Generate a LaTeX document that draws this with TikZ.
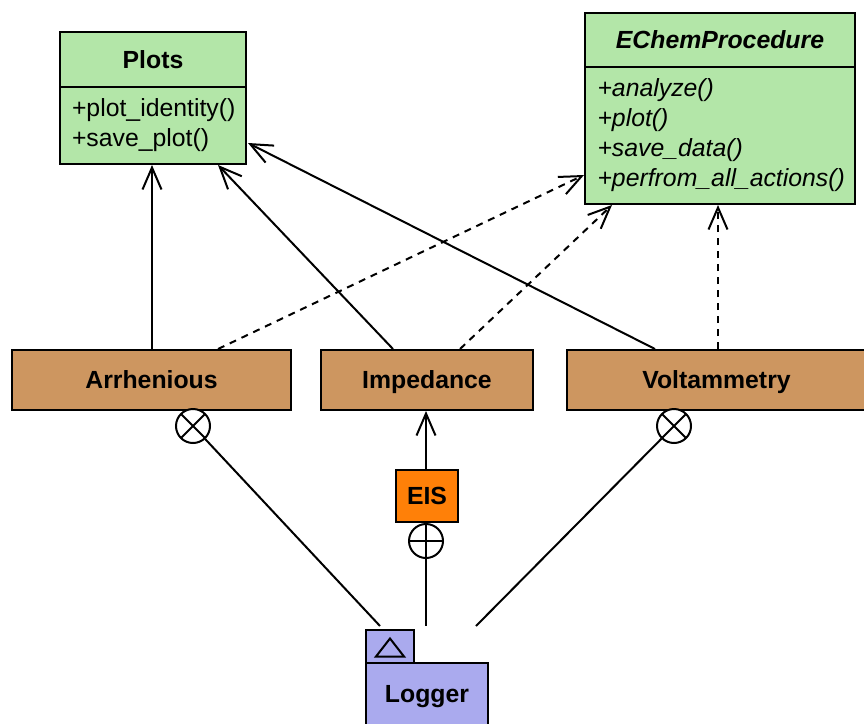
\documentclass[tikz,border=0pt]{standalone}
\usepackage{fontspec}
\setmainfont{Liberation Sans}
\usetikzlibrary{arrows.meta,calc}
\definecolor{clsgreen}{RGB}{179,230,168}
\definecolor{clstan}{RGB}{205,150,96}
\definecolor{clsorange}{RGB}{255,128,8}
\definecolor{clslav}{RGB}{170,170,238}
\tikzset{
  box/.style={draw=black, line width=2pt, inner sep=0pt, minimum width=#1},
  ttl/.style={font=\fontsize{24.8}{30}\selectfont\bfseries},
  bodytxt/.style={font=\fontsize{24.8}{30}\selectfont, align=left},
  conn/.style={line width=2pt},
  dsh/.style={dash pattern=on 7pt off 6pt},
  opentip/.style={-{Straight Barb[length=22pt,width=19pt,line width=2pt]}},
  xcirc/.style={circle, draw=black, line width=2pt, fill=white, minimum size=34pt, inner sep=0pt,
    path picture={\draw[line width=2pt] (path picture bounding box.north west) -- (path picture bounding box.south east)
      (path picture bounding box.north east) -- (path picture bounding box.south west);}},
  pcirc/.style={circle, draw=black, line width=2pt, fill=white, minimum size=34pt, inner sep=0pt,
    path picture={\draw[line width=2pt] (path picture bounding box.north) -- (path picture bounding box.south)
      (path picture bounding box.east) -- (path picture bounding box.west);}}
}
\begin{document}
\begin{tikzpicture}[x=1pt,y=-1pt]
\useasboundingbox (0,0) rectangle (864,723);
\fill[white] (0,0) rectangle (864,723);
% Plots
\node[box=186pt, minimum height=55pt, fill=clsgreen, ttl] (plotst) at (153,59.5) {Plots};
\node[box=186pt, minimum height=77pt, fill=clsgreen, bodytxt, text width=162pt, inner xsep=12pt] (plotsb) at (153,125.5) {+plot\_identity()\\+save\_plot()};
% EChemProcedure
\node[box=270pt, minimum height=54pt, fill=clsgreen, ttl, font=\fontsize{24.8}{30}\selectfont\bfseries\itshape] (echemt) at (720,40) {EChemProcedure};
\node[box=270pt, minimum height=137pt, fill=clsgreen, bodytxt, font=\fontsize{24.8}{30}\selectfont\itshape, text width=245pt, inner xsep=12.5pt] (echemb) at (720,135.5) {+analyze()\\+plot()\\+save\_data()\\+perfrom\_all\_actions()};
% classes
\node[box=279pt, minimum height=60pt, fill=clstan, ttl, text depth=0pt] (arrh) at (151.5,380) {Arrhenious};
\node[box=212pt, minimum height=60pt, fill=clstan, ttl, text depth=0pt] (imp) at (427,380) {Impedance};
\node[box=299pt, minimum height=60pt, fill=clstan, ttl, text depth=0pt] (volt) at (716.5,380) {Voltammetry};
\node[box=62pt, minimum height=52pt, fill=clsorange, ttl] (eis) at (427,496) {EIS};
% Logger package
\node[box=48pt, minimum height=33pt, fill=clslav] (lgtab) at (390,646.5) {};
\node[box=122pt, minimum height=62pt, fill=clslav, ttl, text depth=0pt] (lgbody) at (427,694) {Logger};
\draw[line width=2pt] ($(lgtab.center)+(-14,10)$) -- ($(lgtab.center)+(14,10)$) -- ($(lgtab.center)+(0,-8)$) -- cycle;
% circles
\node[xcirc] (acirc) at (193,426) {};
\node[xcirc] (vcirc) at (674,426) {};
\node[pcirc] (pcirc) at (426,541) {};
\coordinate (e1) at (380,626);
\coordinate (e2) at (426,626);
\coordinate (e3) at (476,626);
% inheritance to Plots
\draw[conn,opentip] ($(arrh.north)+(0.5,0)$) -- ($(plotsb.south)+(-1,0)$);
\draw[conn,opentip] ($(imp.north)+(-34,0)$) -- ($(plotsb.south)+(65,0)$);
\draw[conn,opentip] ($(volt.north)+(-61.5,0)$) -- ($(plotsb.east)+(1,17.5)$);
% realization to EChemProcedure
\draw[conn,dsh,opentip] ($(arrh.north)+(66.5,0)$) -- ($(echemb.west)+(0,39.5)$);
\draw[conn,dsh,opentip] ($(imp.north)+(33,0)$) -- ($(echemb.south)+(-108,0)$);
\draw[conn,dsh,opentip] ($(volt.north)+(1.5,0)$) -- ($(echemb.south)+(-2,0)$);
% EIS
\draw[conn,opentip] ($(eis.north)+(-1,0)$) -- ($(imp.south)+(-1,0)$);
\draw[conn] ($(eis.south)+(-1,0)$) -- (pcirc.north);
\draw[conn] (pcirc.south) -- (e2);
\draw[conn] (acirc) -- (e1);
\draw[conn] (vcirc) -- (e3);
\end{tikzpicture}
\end{document}
